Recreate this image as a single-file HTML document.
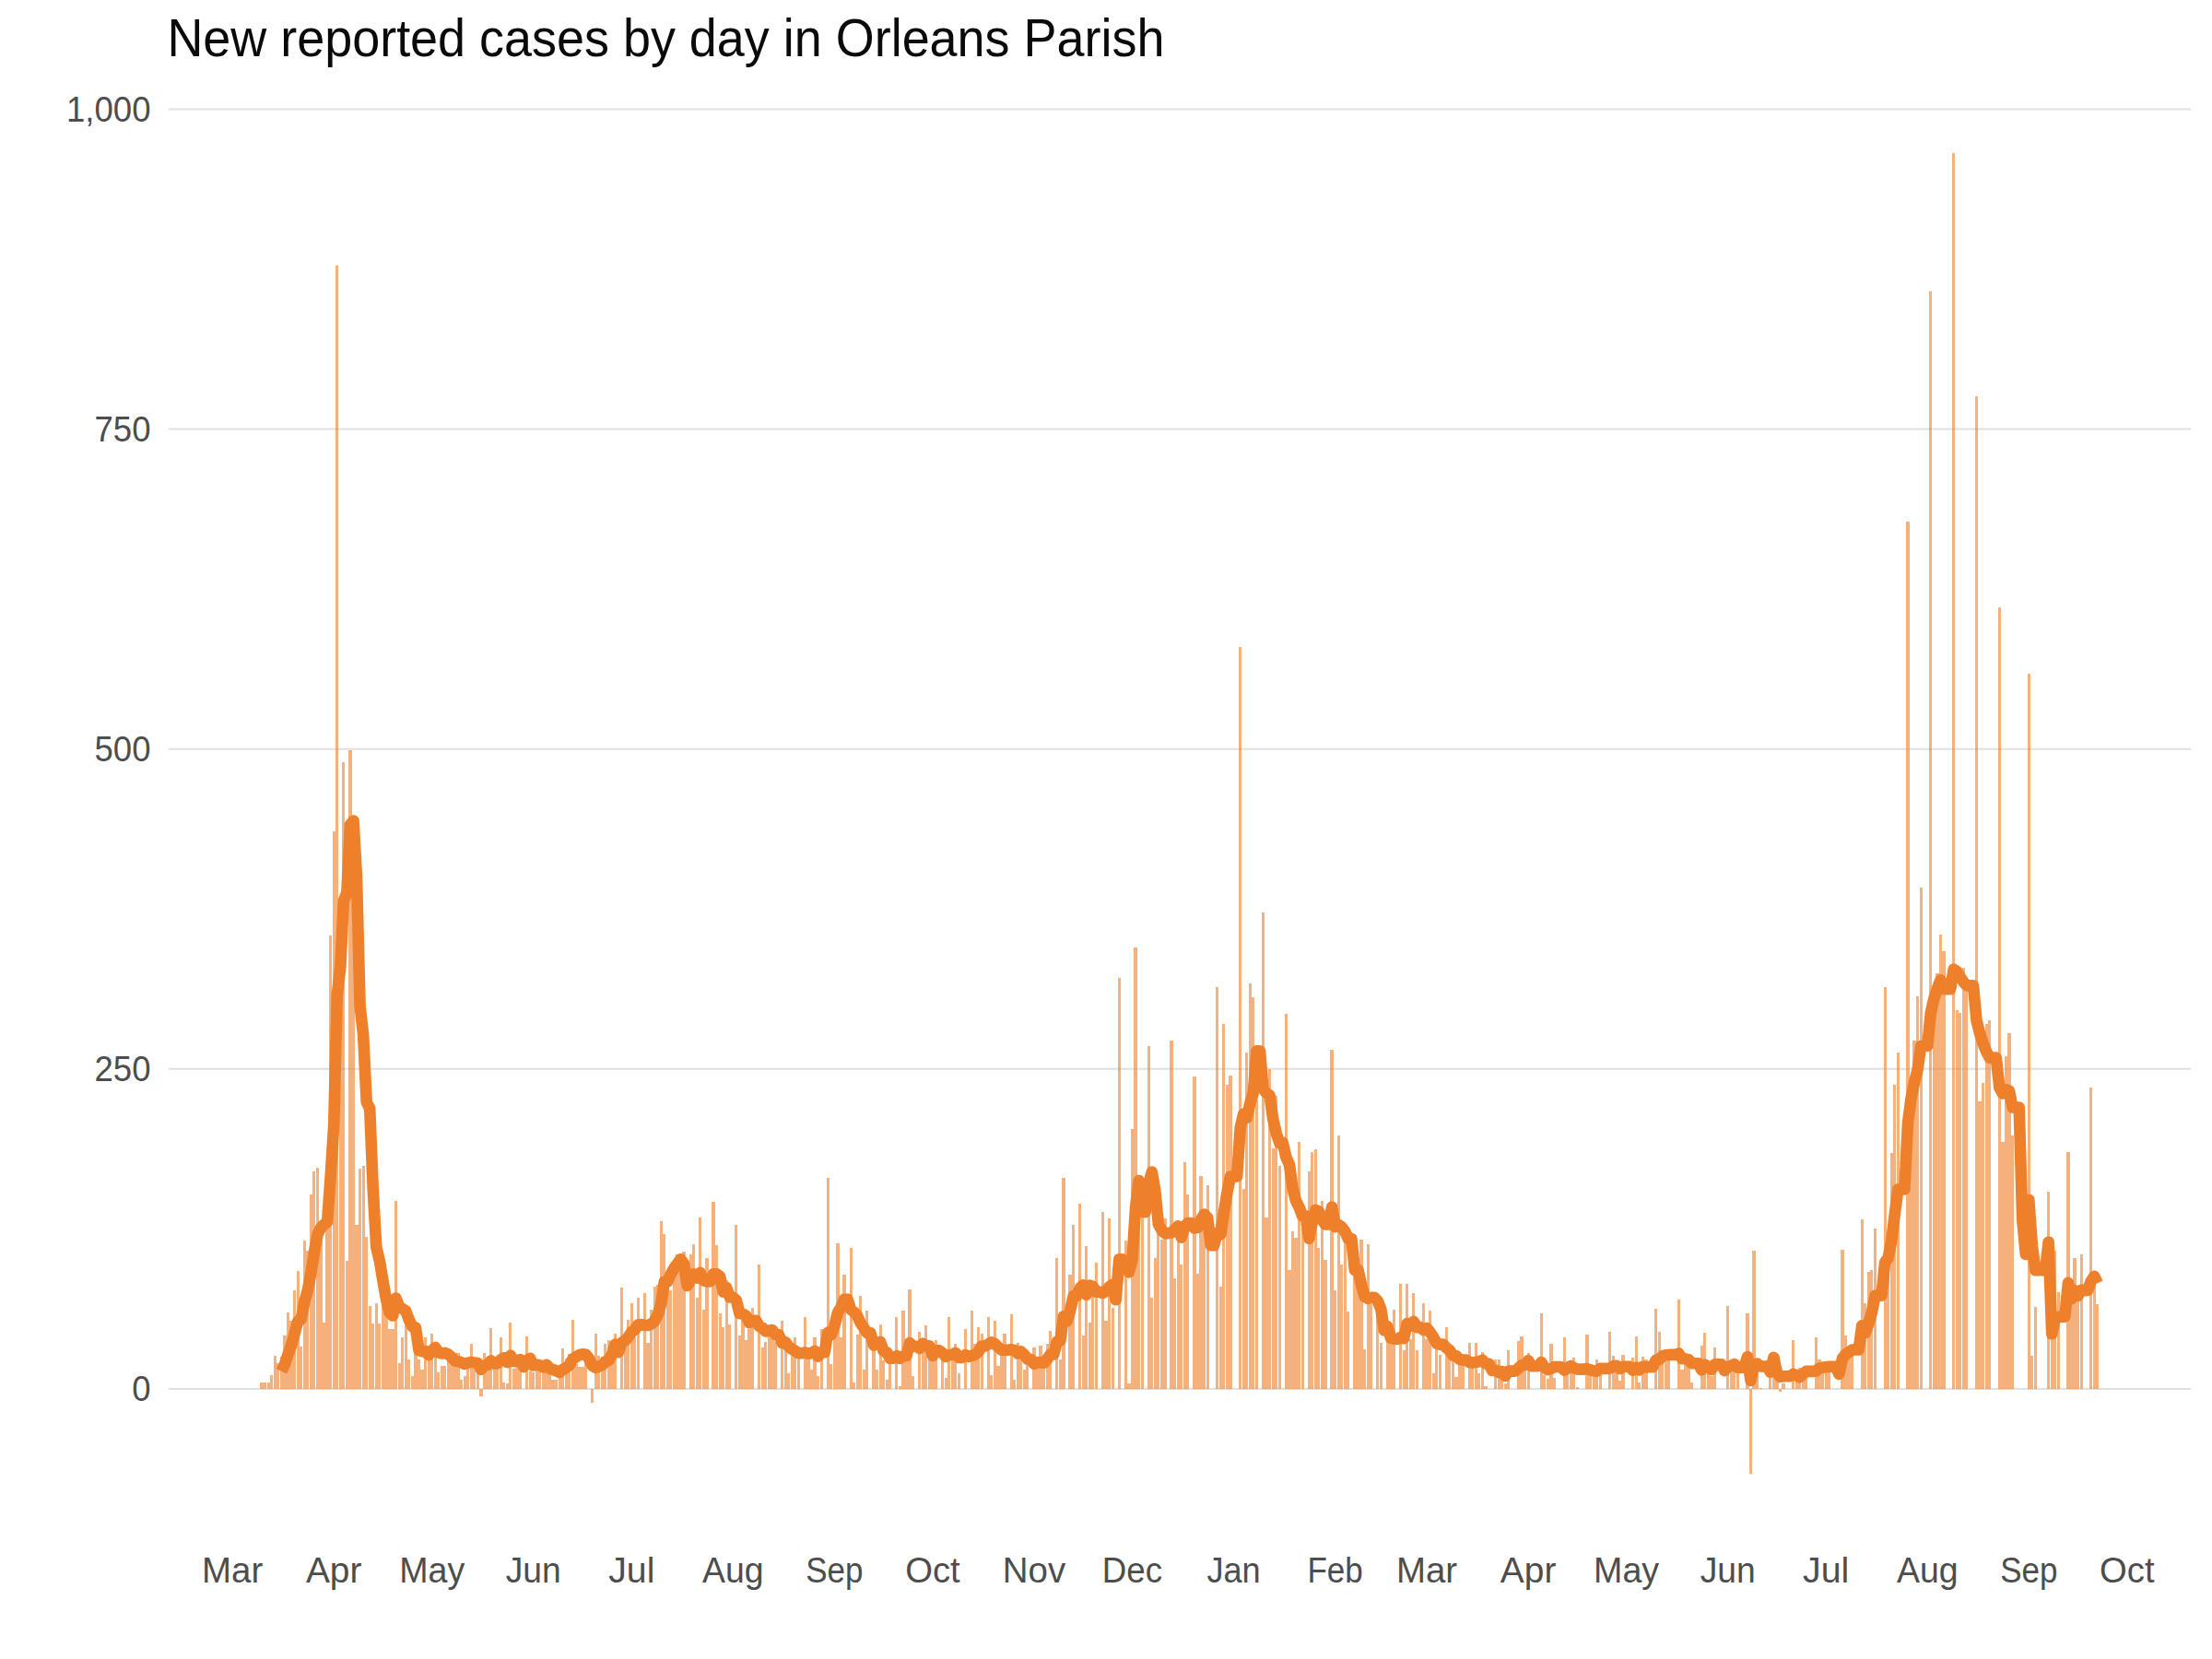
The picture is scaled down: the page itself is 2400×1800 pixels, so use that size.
<!DOCTYPE html>
<html><head><meta charset="utf-8"><title>New reported cases by day in Orleans Parish</title>
<style>
html,body{margin:0;padding:0;background:#fff;}
body{width:2400px;height:1800px;overflow:hidden;position:relative;font-family:"Liberation Sans",sans-serif;}
svg{position:absolute;left:0;top:0;}
.t{font-family:"Liberation Sans",sans-serif;font-size:57px;fill:#0a0a0a;}
.a{font-family:"Liberation Sans",sans-serif;font-size:38px;fill:#4d4d4d;}
</style></head><body>
<svg width="2400" height="1800" viewBox="0 0 2400 1800">
<rect width="2400" height="1800" fill="#fff"/>
<text class="t" x="181.4" y="61.4" textLength="1082" lengthAdjust="spacingAndGlyphs">New reported cases by day in Orleans Parish</text>
<g stroke="#e0e0e0" stroke-width="2"><line x1="183" x2="2377" y1="1507.0" y2="1507.0"/><line x1="183" x2="2377" y1="1159.8" y2="1159.8"/><line x1="183" x2="2377" y1="812.7" y2="812.7"/><line x1="183" x2="2377" y1="465.5" y2="465.5"/><line x1="183" x2="2377" y1="118.4" y2="118.4"/></g>
<g class="a" text-anchor="end"><text x="163.5" y="1520.4" textLength="20.3" lengthAdjust="spacingAndGlyphs">0</text><text x="163.5" y="1173.2" textLength="61.0" lengthAdjust="spacingAndGlyphs">250</text><text x="163.5" y="826.1" textLength="61.0" lengthAdjust="spacingAndGlyphs">500</text><text x="163.5" y="478.9" textLength="61.0" lengthAdjust="spacingAndGlyphs">750</text><text x="163.5" y="131.8" textLength="91.6" lengthAdjust="spacingAndGlyphs">1,000</text></g>
<g class="a" text-anchor="middle"><text x="252.1" y="1716.5" textLength="66.2" lengthAdjust="spacingAndGlyphs">Mar</text><text x="362.2" y="1716.5" textLength="60.5" lengthAdjust="spacingAndGlyphs">Apr</text><text x="468.7" y="1716.5" textLength="71.0" lengthAdjust="spacingAndGlyphs">May</text><text x="578.7" y="1716.5" textLength="60.0" lengthAdjust="spacingAndGlyphs">Jun</text><text x="685.3" y="1716.5" textLength="50.2" lengthAdjust="spacingAndGlyphs">Jul</text><text x="795.3" y="1716.5" textLength="66.6" lengthAdjust="spacingAndGlyphs">Aug</text><text x="905.4" y="1716.5" textLength="62.3" lengthAdjust="spacingAndGlyphs">Sep</text><text x="1011.9" y="1716.5" textLength="59.5" lengthAdjust="spacingAndGlyphs">Oct</text><text x="1122.0" y="1716.5" textLength="68.4" lengthAdjust="spacingAndGlyphs">Nov</text><text x="1228.5" y="1716.5" textLength="65.3" lengthAdjust="spacingAndGlyphs">Dec</text><text x="1338.6" y="1716.5" textLength="58.3" lengthAdjust="spacingAndGlyphs">Jan</text><text x="1448.6" y="1716.5" textLength="60.4" lengthAdjust="spacingAndGlyphs">Feb</text><text x="1548.0" y="1716.5" textLength="66.2" lengthAdjust="spacingAndGlyphs">Mar</text><text x="1658.1" y="1716.5" textLength="60.5" lengthAdjust="spacingAndGlyphs">Apr</text><text x="1764.6" y="1716.5" textLength="71.0" lengthAdjust="spacingAndGlyphs">May</text><text x="1874.7" y="1716.5" textLength="60.0" lengthAdjust="spacingAndGlyphs">Jun</text><text x="1981.2" y="1716.5" textLength="50.2" lengthAdjust="spacingAndGlyphs">Jul</text><text x="2091.3" y="1716.5" textLength="66.6" lengthAdjust="spacingAndGlyphs">Aug</text><text x="2201.3" y="1716.5" textLength="62.3" lengthAdjust="spacingAndGlyphs">Sep</text><text x="2307.8" y="1716.5" textLength="59.5" lengthAdjust="spacingAndGlyphs">Oct</text></g>
<g fill="#f0802a" fill-opacity="0.62" shape-rendering="crispEdges"><rect x="282" y="1500" width="4" height="7"/><rect x="286" y="1500" width="3" height="7"/><rect x="290" y="1500" width="3" height="7"/><rect x="293" y="1492" width="3" height="15"/><rect x="297" y="1471" width="3" height="36"/><rect x="300" y="1479" width="3" height="28"/><rect x="304" y="1472" width="3" height="35"/><rect x="307" y="1449" width="4" height="58"/><rect x="311" y="1424" width="3" height="83"/><rect x="314" y="1433" width="4" height="74"/><rect x="318" y="1400" width="3" height="107"/><rect x="322" y="1379" width="3" height="128"/><rect x="325" y="1461" width="3" height="46"/><rect x="329" y="1346" width="3" height="161"/><rect x="332" y="1357" width="3" height="150"/><rect x="336" y="1296" width="3" height="211"/><rect x="339" y="1271" width="3" height="236"/><rect x="343" y="1267" width="3" height="240"/><rect x="346" y="1329" width="4" height="178"/><rect x="350" y="1435" width="3" height="72"/><rect x="353" y="1326" width="4" height="181"/><rect x="357" y="1015" width="3" height="492"/><rect x="361" y="902" width="3" height="605"/><rect x="364" y="288" width="3" height="1219"/><rect x="368" y="1052" width="3" height="455"/><rect x="371" y="827" width="3" height="680"/><rect x="375" y="1368" width="3" height="139"/><rect x="378" y="814" width="4" height="693"/><rect x="382" y="983" width="3" height="524"/><rect x="385" y="1329" width="4" height="178"/><rect x="389" y="1268" width="3" height="239"/><rect x="393" y="1265" width="3" height="242"/><rect x="396" y="1342" width="3" height="165"/><rect x="400" y="1417" width="3" height="90"/><rect x="403" y="1436" width="3" height="71"/><rect x="407" y="1414" width="3" height="93"/><rect x="410" y="1436" width="3" height="71"/><rect x="414" y="1415" width="3" height="92"/><rect x="417" y="1407" width="4" height="100"/><rect x="421" y="1442" width="3" height="65"/><rect x="424" y="1442" width="4" height="65"/><rect x="428" y="1303" width="3" height="204"/><rect x="432" y="1479" width="3" height="28"/><rect x="435" y="1451" width="3" height="56"/><rect x="439" y="1432" width="3" height="75"/><rect x="442" y="1475" width="3" height="32"/><rect x="446" y="1493" width="3" height="14"/><rect x="449" y="1450" width="4" height="57"/><rect x="453" y="1475" width="3" height="32"/><rect x="456" y="1486" width="4" height="21"/><rect x="460" y="1451" width="3" height="56"/><rect x="464" y="1460" width="3" height="47"/><rect x="467" y="1447" width="3" height="60"/><rect x="471" y="1463" width="3" height="44"/><rect x="474" y="1489" width="3" height="18"/><rect x="478" y="1482" width="3" height="25"/><rect x="481" y="1482" width="3" height="25"/><rect x="485" y="1463" width="3" height="44"/><rect x="488" y="1481" width="4" height="26"/><rect x="492" y="1475" width="3" height="32"/><rect x="495" y="1468" width="4" height="39"/><rect x="499" y="1497" width="3" height="10"/><rect x="503" y="1493" width="3" height="14"/><rect x="506" y="1473" width="3" height="34"/><rect x="510" y="1458" width="3" height="49"/><rect x="513" y="1485" width="3" height="22"/><rect x="517" y="1479" width="3" height="28"/><rect x="520" y="1507" width="4" height="8"/><rect x="524" y="1468" width="3" height="39"/><rect x="527" y="1487" width="4" height="20"/><rect x="531" y="1441" width="3" height="66"/><rect x="535" y="1480" width="3" height="27"/><rect x="538" y="1485" width="3" height="22"/><rect x="542" y="1451" width="3" height="56"/><rect x="545" y="1500" width="3" height="7"/><rect x="549" y="1501" width="3" height="6"/><rect x="552" y="1435" width="3" height="72"/><rect x="556" y="1485" width="3" height="22"/><rect x="559" y="1478" width="4" height="29"/><rect x="563" y="1475" width="3" height="32"/><rect x="570" y="1450" width="3" height="57"/><rect x="574" y="1488" width="3" height="19"/><rect x="577" y="1489" width="3" height="18"/><rect x="581" y="1479" width="3" height="28"/><rect x="584" y="1483" width="3" height="24"/><rect x="588" y="1488" width="3" height="19"/><rect x="591" y="1489" width="4" height="18"/><rect x="595" y="1478" width="3" height="29"/><rect x="598" y="1497" width="4" height="10"/><rect x="602" y="1497" width="3" height="10"/><rect x="606" y="1490" width="3" height="17"/><rect x="609" y="1463" width="3" height="44"/><rect x="613" y="1474" width="3" height="33"/><rect x="616" y="1469" width="3" height="38"/><rect x="620" y="1432" width="3" height="75"/><rect x="623" y="1480" width="4" height="27"/><rect x="627" y="1483" width="3" height="24"/><rect x="630" y="1483" width="4" height="24"/><rect x="634" y="1464" width="3" height="43"/><rect x="641" y="1507" width="3" height="15"/><rect x="645" y="1447" width="3" height="60"/><rect x="648" y="1471" width="3" height="36"/><rect x="652" y="1472" width="3" height="35"/><rect x="655" y="1458" width="3" height="49"/><rect x="659" y="1454" width="3" height="53"/><rect x="662" y="1460" width="4" height="47"/><rect x="666" y="1447" width="3" height="60"/><rect x="673" y="1397" width="3" height="110"/><rect x="677" y="1457" width="3" height="50"/><rect x="680" y="1432" width="3" height="75"/><rect x="684" y="1414" width="3" height="93"/><rect x="687" y="1445" width="3" height="62"/><rect x="691" y="1408" width="3" height="99"/><rect x="698" y="1403" width="3" height="104"/><rect x="701" y="1457" width="4" height="50"/><rect x="705" y="1421" width="3" height="86"/><rect x="709" y="1396" width="3" height="111"/><rect x="712" y="1394" width="3" height="113"/><rect x="716" y="1325" width="3" height="182"/><rect x="719" y="1339" width="3" height="168"/><rect x="723" y="1401" width="3" height="106"/><rect x="726" y="1400" width="3" height="107"/><rect x="730" y="1377" width="3" height="130"/><rect x="733" y="1361" width="4" height="146"/><rect x="737" y="1361" width="3" height="146"/><rect x="740" y="1358" width="4" height="149"/><rect x="748" y="1361" width="3" height="146"/><rect x="751" y="1350" width="3" height="157"/><rect x="755" y="1408" width="3" height="99"/><rect x="758" y="1321" width="3" height="186"/><rect x="762" y="1421" width="3" height="86"/><rect x="765" y="1365" width="4" height="142"/><rect x="772" y="1304" width="4" height="203"/><rect x="776" y="1351" width="3" height="156"/><rect x="780" y="1425" width="3" height="82"/><rect x="783" y="1440" width="3" height="67"/><rect x="787" y="1389" width="3" height="118"/><rect x="790" y="1437" width="3" height="70"/><rect x="797" y="1329" width="3" height="178"/><rect x="801" y="1449" width="3" height="58"/><rect x="804" y="1429" width="4" height="78"/><rect x="808" y="1454" width="3" height="53"/><rect x="811" y="1442" width="4" height="65"/><rect x="815" y="1419" width="3" height="88"/><rect x="822" y="1372" width="3" height="135"/><rect x="826" y="1462" width="3" height="45"/><rect x="829" y="1456" width="3" height="51"/><rect x="833" y="1448" width="3" height="59"/><rect x="836" y="1438" width="4" height="69"/><rect x="840" y="1456" width="3" height="51"/><rect x="847" y="1433" width="3" height="74"/><rect x="851" y="1454" width="3" height="53"/><rect x="854" y="1490" width="3" height="17"/><rect x="858" y="1468" width="3" height="39"/><rect x="861" y="1451" width="3" height="56"/><rect x="865" y="1473" width="3" height="34"/><rect x="872" y="1429" width="3" height="78"/><rect x="875" y="1463" width="4" height="44"/><rect x="879" y="1486" width="3" height="21"/><rect x="882" y="1451" width="4" height="56"/><rect x="886" y="1493" width="3" height="14"/><rect x="890" y="1442" width="3" height="65"/><rect x="897" y="1278" width="3" height="229"/><rect x="900" y="1480" width="3" height="27"/><rect x="904" y="1420" width="3" height="87"/><rect x="907" y="1349" width="4" height="158"/><rect x="911" y="1451" width="3" height="56"/><rect x="914" y="1383" width="4" height="124"/><rect x="922" y="1354" width="3" height="153"/><rect x="925" y="1500" width="3" height="7"/><rect x="929" y="1448" width="3" height="59"/><rect x="932" y="1406" width="3" height="101"/><rect x="936" y="1486" width="3" height="21"/><rect x="939" y="1422" width="3" height="85"/><rect x="946" y="1447" width="4" height="60"/><rect x="950" y="1486" width="3" height="21"/><rect x="954" y="1437" width="3" height="70"/><rect x="957" y="1476" width="3" height="31"/><rect x="961" y="1497" width="3" height="10"/><rect x="964" y="1467" width="3" height="40"/><rect x="971" y="1429" width="3" height="78"/><rect x="975" y="1504" width="3" height="3"/><rect x="978" y="1422" width="4" height="85"/><rect x="982" y="1471" width="3" height="36"/><rect x="985" y="1399" width="4" height="108"/><rect x="989" y="1493" width="3" height="14"/><rect x="996" y="1445" width="3" height="62"/><rect x="1000" y="1467" width="3" height="40"/><rect x="1003" y="1438" width="3" height="69"/><rect x="1007" y="1474" width="3" height="33"/><rect x="1010" y="1472" width="4" height="35"/><rect x="1014" y="1454" width="3" height="53"/><rect x="1021" y="1463" width="3" height="44"/><rect x="1025" y="1495" width="3" height="12"/><rect x="1028" y="1429" width="3" height="78"/><rect x="1032" y="1469" width="3" height="38"/><rect x="1035" y="1458" width="3" height="49"/><rect x="1039" y="1490" width="3" height="17"/><rect x="1046" y="1442" width="3" height="65"/><rect x="1053" y="1422" width="3" height="85"/><rect x="1056" y="1458" width="4" height="49"/><rect x="1060" y="1440" width="3" height="67"/><rect x="1064" y="1447" width="3" height="60"/><rect x="1071" y="1429" width="3" height="78"/><rect x="1074" y="1492" width="3" height="15"/><rect x="1078" y="1433" width="3" height="74"/><rect x="1081" y="1482" width="4" height="25"/><rect x="1085" y="1463" width="3" height="44"/><rect x="1088" y="1447" width="4" height="60"/><rect x="1096" y="1426" width="3" height="81"/><rect x="1099" y="1497" width="3" height="10"/><rect x="1103" y="1457" width="3" height="50"/><rect x="1106" y="1469" width="3" height="38"/><rect x="1110" y="1486" width="3" height="21"/><rect x="1113" y="1481" width="3" height="26"/><rect x="1120" y="1462" width="4" height="45"/><rect x="1124" y="1484" width="3" height="23"/><rect x="1127" y="1460" width="4" height="47"/><rect x="1131" y="1470" width="3" height="37"/><rect x="1135" y="1458" width="3" height="49"/><rect x="1138" y="1444" width="3" height="63"/><rect x="1145" y="1365" width="3" height="142"/><rect x="1149" y="1475" width="3" height="32"/><rect x="1152" y="1278" width="4" height="229"/><rect x="1159" y="1383" width="4" height="124"/><rect x="1163" y="1329" width="3" height="178"/><rect x="1170" y="1306" width="3" height="201"/><rect x="1174" y="1449" width="3" height="58"/><rect x="1177" y="1352" width="3" height="155"/><rect x="1181" y="1435" width="3" height="72"/><rect x="1184" y="1392" width="3" height="115"/><rect x="1188" y="1370" width="3" height="137"/><rect x="1195" y="1315" width="3" height="192"/><rect x="1198" y="1433" width="4" height="74"/><rect x="1202" y="1322" width="3" height="185"/><rect x="1206" y="1419" width="3" height="88"/><rect x="1213" y="1061" width="3" height="446"/><rect x="1220" y="1346" width="3" height="161"/><rect x="1223" y="1501" width="4" height="6"/><rect x="1227" y="1225" width="3" height="282"/><rect x="1230" y="1028" width="4" height="479"/><rect x="1234" y="1299" width="3" height="208"/><rect x="1238" y="1299" width="3" height="208"/><rect x="1245" y="1135" width="3" height="372"/><rect x="1248" y="1408" width="3" height="99"/><rect x="1252" y="1365" width="3" height="142"/><rect x="1255" y="1285" width="3" height="222"/><rect x="1259" y="1345" width="3" height="162"/><rect x="1262" y="1322" width="4" height="185"/><rect x="1269" y="1129" width="4" height="378"/><rect x="1273" y="1387" width="3" height="120"/><rect x="1277" y="1337" width="3" height="170"/><rect x="1280" y="1372" width="3" height="135"/><rect x="1284" y="1261" width="3" height="246"/><rect x="1287" y="1296" width="3" height="211"/><rect x="1294" y="1168" width="4" height="339"/><rect x="1298" y="1382" width="3" height="125"/><rect x="1301" y="1276" width="4" height="231"/><rect x="1305" y="1332" width="3" height="175"/><rect x="1309" y="1286" width="3" height="221"/><rect x="1319" y="1071" width="3" height="436"/><rect x="1323" y="1396" width="3" height="111"/><rect x="1326" y="1111" width="3" height="396"/><rect x="1330" y="1177" width="3" height="330"/><rect x="1333" y="1167" width="4" height="340"/><rect x="1344" y="702" width="3" height="805"/><rect x="1348" y="1290" width="3" height="217"/><rect x="1351" y="1142" width="3" height="365"/><rect x="1355" y="1067" width="3" height="440"/><rect x="1358" y="1082" width="3" height="425"/><rect x="1362" y="1193" width="3" height="314"/><rect x="1369" y="990" width="3" height="517"/><rect x="1372" y="1321" width="4" height="186"/><rect x="1376" y="1160" width="3" height="347"/><rect x="1380" y="1246" width="3" height="261"/><rect x="1383" y="1189" width="3" height="318"/><rect x="1387" y="1265" width="3" height="242"/><rect x="1394" y="1100" width="3" height="407"/><rect x="1397" y="1378" width="4" height="129"/><rect x="1401" y="1336" width="3" height="171"/><rect x="1404" y="1343" width="4" height="164"/><rect x="1408" y="1239" width="3" height="268"/><rect x="1412" y="1332" width="3" height="175"/><rect x="1419" y="1271" width="3" height="236"/><rect x="1422" y="1250" width="3" height="257"/><rect x="1426" y="1247" width="3" height="260"/><rect x="1429" y="1354" width="3" height="153"/><rect x="1433" y="1303" width="3" height="204"/><rect x="1436" y="1367" width="4" height="140"/><rect x="1443" y="1139" width="4" height="368"/><rect x="1447" y="1400" width="3" height="107"/><rect x="1451" y="1232" width="3" height="275"/><rect x="1454" y="1372" width="3" height="135"/><rect x="1458" y="1336" width="3" height="171"/><rect x="1461" y="1423" width="3" height="84"/><rect x="1468" y="1378" width="4" height="129"/><rect x="1472" y="1396" width="3" height="111"/><rect x="1475" y="1345" width="4" height="162"/><rect x="1479" y="1464" width="3" height="43"/><rect x="1483" y="1350" width="3" height="157"/><rect x="1486" y="1415" width="3" height="92"/><rect x="1493" y="1405" width="3" height="102"/><rect x="1497" y="1457" width="3" height="50"/><rect x="1504" y="1434" width="3" height="73"/><rect x="1507" y="1437" width="4" height="70"/><rect x="1511" y="1421" width="3" height="86"/><rect x="1518" y="1393" width="3" height="114"/><rect x="1522" y="1465" width="3" height="42"/><rect x="1525" y="1393" width="3" height="114"/><rect x="1529" y="1453" width="3" height="54"/><rect x="1532" y="1403" width="3" height="104"/><rect x="1536" y="1465" width="3" height="42"/><rect x="1543" y="1414" width="3" height="93"/><rect x="1546" y="1453" width="4" height="54"/><rect x="1550" y="1422" width="3" height="85"/><rect x="1554" y="1490" width="3" height="17"/><rect x="1557" y="1453" width="3" height="54"/><rect x="1561" y="1470" width="3" height="37"/><rect x="1568" y="1440" width="3" height="67"/><rect x="1571" y="1474" width="3" height="33"/><rect x="1575" y="1461" width="3" height="46"/><rect x="1578" y="1494" width="4" height="13"/><rect x="1582" y="1478" width="3" height="29"/><rect x="1585" y="1476" width="4" height="31"/><rect x="1593" y="1457" width="3" height="50"/><rect x="1596" y="1477" width="3" height="30"/><rect x="1600" y="1457" width="3" height="50"/><rect x="1603" y="1490" width="3" height="17"/><rect x="1607" y="1467" width="3" height="40"/><rect x="1610" y="1504" width="4" height="3"/><rect x="1621" y="1475" width="3" height="32"/><rect x="1625" y="1475" width="3" height="32"/><rect x="1628" y="1483" width="3" height="24"/><rect x="1632" y="1501" width="3" height="6"/><rect x="1635" y="1465" width="3" height="42"/><rect x="1646" y="1455" width="3" height="52"/><rect x="1649" y="1450" width="4" height="57"/><rect x="1653" y="1481" width="3" height="26"/><rect x="1657" y="1468" width="3" height="39"/><rect x="1671" y="1425" width="3" height="82"/><rect x="1674" y="1492" width="3" height="15"/><rect x="1678" y="1496" width="3" height="11"/><rect x="1681" y="1458" width="4" height="49"/><rect x="1685" y="1495" width="3" height="12"/><rect x="1696" y="1451" width="3" height="56"/><rect x="1699" y="1477" width="3" height="30"/><rect x="1703" y="1479" width="3" height="28"/><rect x="1706" y="1473" width="3" height="34"/><rect x="1710" y="1505" width="3" height="2"/><rect x="1720" y="1448" width="4" height="59"/><rect x="1724" y="1487" width="3" height="20"/><rect x="1728" y="1485" width="3" height="22"/><rect x="1731" y="1475" width="3" height="32"/><rect x="1735" y="1485" width="3" height="22"/><rect x="1745" y="1445" width="3" height="62"/><rect x="1749" y="1471" width="3" height="36"/><rect x="1752" y="1482" width="4" height="25"/><rect x="1756" y="1498" width="3" height="9"/><rect x="1759" y="1470" width="4" height="37"/><rect x="1770" y="1473" width="3" height="34"/><rect x="1774" y="1450" width="3" height="57"/><rect x="1777" y="1500" width="3" height="7"/><rect x="1781" y="1472" width="3" height="35"/><rect x="1784" y="1475" width="4" height="32"/><rect x="1795" y="1420" width="3" height="87"/><rect x="1799" y="1445" width="3" height="62"/><rect x="1802" y="1472" width="3" height="35"/><rect x="1806" y="1466" width="3" height="41"/><rect x="1809" y="1471" width="3" height="36"/><rect x="1820" y="1410" width="3" height="97"/><rect x="1823" y="1486" width="4" height="21"/><rect x="1827" y="1472" width="3" height="35"/><rect x="1830" y="1472" width="4" height="35"/><rect x="1834" y="1500" width="3" height="7"/><rect x="1845" y="1460" width="3" height="47"/><rect x="1848" y="1446" width="3" height="61"/><rect x="1852" y="1487" width="3" height="20"/><rect x="1855" y="1493" width="4" height="14"/><rect x="1859" y="1462" width="3" height="45"/><rect x="1873" y="1417" width="3" height="90"/><rect x="1877" y="1480" width="3" height="27"/><rect x="1880" y="1481" width="3" height="26"/><rect x="1884" y="1486" width="3" height="21"/><rect x="1894" y="1425" width="4" height="82"/><rect x="1898" y="1507" width="3" height="92"/><rect x="1901" y="1357" width="4" height="150"/><rect x="1905" y="1476" width="3" height="31"/><rect x="1909" y="1506" width="3" height="1"/><rect x="1919" y="1469" width="3" height="38"/><rect x="1923" y="1487" width="3" height="20"/><rect x="1926" y="1471" width="4" height="36"/><rect x="1930" y="1507" width="3" height="3"/><rect x="1933" y="1501" width="4" height="6"/><rect x="1944" y="1454" width="3" height="53"/><rect x="1948" y="1496" width="3" height="11"/><rect x="1951" y="1484" width="3" height="23"/><rect x="1955" y="1485" width="3" height="22"/><rect x="1958" y="1482" width="3" height="25"/><rect x="1969" y="1451" width="3" height="56"/><rect x="1972" y="1475" width="4" height="32"/><rect x="1976" y="1480" width="3" height="27"/><rect x="1980" y="1482" width="3" height="25"/><rect x="1983" y="1478" width="3" height="29"/><rect x="1997" y="1356" width="4" height="151"/><rect x="2001" y="1449" width="3" height="58"/><rect x="2004" y="1465" width="4" height="42"/><rect x="2008" y="1460" width="3" height="47"/><rect x="2019" y="1323" width="3" height="184"/><rect x="2022" y="1414" width="3" height="93"/><rect x="2026" y="1380" width="3" height="127"/><rect x="2029" y="1378" width="3" height="129"/><rect x="2033" y="1333" width="3" height="174"/><rect x="2044" y="1071" width="3" height="436"/><rect x="2047" y="1377" width="3" height="130"/><rect x="2051" y="1251" width="3" height="256"/><rect x="2054" y="1177" width="3" height="330"/><rect x="2058" y="1142" width="3" height="365"/><rect x="2068" y="566" width="4" height="941"/><rect x="2072" y="1191" width="3" height="316"/><rect x="2075" y="1129" width="4" height="378"/><rect x="2079" y="1081" width="3" height="426"/><rect x="2083" y="963" width="3" height="544"/><rect x="2093" y="316" width="3" height="1191"/><rect x="2097" y="1080" width="3" height="427"/><rect x="2100" y="1056" width="4" height="451"/><rect x="2104" y="1014" width="3" height="493"/><rect x="2107" y="1032" width="4" height="475"/><rect x="2118" y="166" width="3" height="1341"/><rect x="2122" y="1096" width="3" height="411"/><rect x="2125" y="1099" width="3" height="408"/><rect x="2129" y="1050" width="3" height="457"/><rect x="2132" y="1061" width="3" height="446"/><rect x="2143" y="430" width="3" height="1077"/><rect x="2146" y="1195" width="4" height="312"/><rect x="2150" y="1175" width="3" height="332"/><rect x="2154" y="1111" width="3" height="396"/><rect x="2157" y="1107" width="3" height="400"/><rect x="2168" y="659" width="3" height="848"/><rect x="2171" y="1239" width="4" height="268"/><rect x="2175" y="1146" width="3" height="361"/><rect x="2178" y="1121" width="4" height="386"/><rect x="2182" y="1232" width="3" height="275"/><rect x="2200" y="731" width="3" height="776"/><rect x="2203" y="1471" width="3" height="36"/><rect x="2207" y="1418" width="3" height="89"/><rect x="2221" y="1293" width="3" height="214"/><rect x="2225" y="1428" width="3" height="79"/><rect x="2228" y="1357" width="3" height="150"/><rect x="2232" y="1402" width="3" height="105"/><rect x="2242" y="1250" width="4" height="257"/><rect x="2246" y="1415" width="3" height="92"/><rect x="2249" y="1365" width="4" height="142"/><rect x="2253" y="1396" width="3" height="111"/><rect x="2257" y="1361" width="3" height="146"/><rect x="2267" y="1180" width="3" height="327"/><rect x="2271" y="1379" width="3" height="128"/><rect x="2274" y="1415" width="3" height="92"/></g>
<polyline fill="none" stroke="#ee802b" stroke-width="12.6" stroke-linejoin="round" stroke-linecap="butt" points="305.4,1487.8 308.9,1480.5 312.5,1469.5 316.0,1460.0 319.6,1446.9 323.1,1433.8 326.7,1431.2 330.2,1413.2 333.8,1400.1 337.3,1381.8 340.9,1358.6 344.4,1339.6 348.0,1332.4 351.5,1328.7 355.1,1325.9 358.6,1277.1 362.2,1220.8 365.7,1080.3 369.3,1049.6 372.8,977.7 376.4,968.2 379.9,895.0 383.5,890.5 387.0,951.6 390.6,1091.6 394.1,1122.2 397.7,1195.8 401.2,1202.7 404.8,1291.6 408.3,1353.1 411.9,1368.3 415.4,1389.4 419.0,1409.6 422.5,1423.9 426.1,1427.5 429.6,1408.5 433.2,1417.8 436.7,1420.0 440.3,1422.3 443.8,1432.0 447.4,1439.3 450.9,1440.5 454.5,1465.1 458.0,1466.1 461.6,1466.1 465.1,1470.1 468.7,1466.1 472.2,1461.9 475.8,1467.5 479.3,1468.5 482.9,1467.9 486.4,1469.5 490.0,1472.5 493.5,1476.5 497.1,1477.1 500.6,1478.3 504.2,1479.9 507.7,1478.6 511.3,1478.0 514.8,1478.6 518.4,1479.1 521.9,1485.9 525.5,1481.7 529.0,1480.9 532.6,1476.4 536.1,1479.4 539.7,1479.4 543.2,1475.5 546.8,1473.3 550.3,1478.1 553.9,1470.7 557.4,1476.9 561.0,1476.6 564.5,1475.1 568.1,1483.0 571.6,1475.9 575.2,1473.9 578.7,1481.5 582.3,1480.7 585.8,1481.5 589.4,1483.3 592.9,1480.8 596.5,1484.8 600.0,1486.1 603.6,1487.3 607.1,1488.9 610.7,1485.9 614.3,1484.0 617.8,1481.1 621.4,1474.6 624.9,1472.2 628.5,1470.2 632.0,1469.3 635.6,1469.5 639.1,1474.1 642.7,1481.8 646.2,1483.9 649.8,1482.6 653.3,1481.0 656.9,1477.4 660.4,1476.0 664.0,1469.3 667.5,1458.6 671.1,1467.1 674.6,1456.6 678.2,1454.5 681.7,1450.7 685.3,1445.0 688.8,1442.7 692.4,1437.2 695.9,1437.2 699.5,1438.0 703.0,1438.0 706.6,1436.4 710.1,1433.8 713.7,1426.6 717.2,1414.7 720.8,1390.7 724.3,1390.4 727.9,1382.3 731.4,1376.0 735.0,1371.0 738.5,1366.3 742.1,1371.0 745.6,1395.0 749.2,1389.4 752.7,1382.2 756.3,1386.6 759.8,1380.9 763.4,1389.4 766.9,1390.4 770.5,1390.4 774.0,1382.2 777.6,1382.3 781.1,1384.8 784.7,1401.8 788.2,1397.1 791.8,1407.5 795.3,1407.5 798.9,1410.9 802.4,1425.0 806.0,1425.6 809.5,1427.6 813.1,1435.3 816.6,1432.7 820.2,1432.7 823.7,1438.9 827.3,1440.7 830.8,1444.5 834.4,1443.7 837.9,1443.0 841.5,1448.3 845.0,1448.3 848.6,1457.1 852.1,1456.1 855.7,1460.9 859.2,1463.8 862.8,1465.8 866.3,1468.2 869.9,1468.2 873.4,1467.5 877.0,1468.7 880.5,1468.1 884.1,1465.8 887.6,1471.7 891.2,1467.3 894.7,1467.3 898.3,1445.8 901.8,1448.3 905.4,1438.8 908.9,1424.2 912.5,1418.3 916.0,1409.9 919.6,1409.9 923.1,1420.8 926.7,1423.6 930.2,1427.7 933.8,1435.8 937.3,1440.7 940.9,1446.2 944.4,1446.2 948.0,1459.5 951.5,1457.5 955.1,1455.9 958.6,1465.9 962.2,1467.4 965.8,1473.8 969.3,1473.8 972.9,1471.3 976.4,1473.9 980.0,1471.7 983.5,1470.8 987.1,1457.0 990.6,1460.7 994.2,1460.7 997.7,1463.0 1001.3,1457.8 1004.8,1460.1 1008.4,1460.6 1011.9,1471.0 1015.5,1465.4 1019.0,1465.4 1022.6,1467.9 1026.1,1471.8 1029.7,1470.4 1033.2,1469.7 1036.8,1467.8 1040.3,1472.9 1043.9,1472.9 1047.4,1470.1 1051.0,1471.9 1054.5,1471.0 1058.1,1469.4 1061.6,1466.7 1065.2,1460.5 1068.7,1460.5 1072.3,1458.5 1075.8,1456.4 1079.4,1458.0 1082.9,1461.4 1086.5,1464.7 1090.0,1464.7 1093.6,1464.7 1097.1,1464.3 1100.7,1465.0 1104.2,1468.4 1107.8,1466.5 1111.3,1469.8 1114.9,1474.7 1118.4,1474.7 1122.0,1479.8 1125.5,1478.0 1129.1,1478.5 1132.6,1478.7 1136.2,1474.8 1139.7,1469.5 1143.3,1469.5 1146.8,1455.7 1150.4,1454.3 1153.9,1428.3 1157.5,1433.5 1161.0,1422.7 1164.6,1406.3 1168.1,1406.3 1171.7,1397.9 1175.2,1394.2 1178.8,1404.8 1182.3,1394.6 1185.9,1395.9 1189.4,1401.8 1193.0,1401.8 1196.5,1403.0 1200.1,1400.6 1203.6,1396.2 1207.2,1393.8 1210.7,1410.3 1214.3,1366.2 1217.8,1366.2 1221.4,1370.6 1224.9,1380.4 1228.5,1366.7 1232.0,1310.8 1235.6,1281.1 1239.1,1315.0 1242.7,1315.0 1246.2,1284.8 1249.8,1271.5 1253.3,1291.6 1256.9,1328.3 1260.4,1334.8 1264.0,1338.1 1267.5,1338.1 1271.1,1337.3 1274.6,1334.2 1278.2,1330.2 1281.7,1342.6 1285.3,1330.7 1288.8,1327.0 1292.4,1327.0 1295.9,1332.6 1299.5,1331.9 1303.0,1323.1 1306.6,1317.5 1310.1,1320.9 1313.7,1351.1 1317.2,1351.1 1320.8,1337.2 1324.4,1339.2 1327.9,1315.7 1331.5,1293.4 1335.0,1276.5 1338.6,1276.5 1342.1,1276.5 1345.7,1223.7 1349.2,1208.5 1352.8,1212.9 1356.3,1197.2 1359.9,1185.1 1363.4,1140.3 1367.0,1140.3 1370.5,1181.6 1374.1,1186.0 1377.6,1188.6 1381.2,1214.2 1384.7,1229.5 1388.3,1239.8 1391.8,1239.8 1395.4,1255.5 1398.9,1263.6 1402.5,1288.8 1406.0,1302.7 1409.6,1309.8 1413.1,1319.3 1416.7,1319.3 1420.2,1343.7 1423.8,1325.5 1427.3,1312.8 1430.9,1314.3 1434.4,1323.4 1438.0,1328.5 1441.5,1328.5 1445.1,1309.6 1448.6,1331.1 1452.2,1328.9 1455.7,1331.4 1459.3,1336.1 1462.8,1344.0 1466.4,1344.0 1469.9,1378.2 1473.5,1377.6 1477.0,1393.8 1480.6,1406.9 1484.1,1408.9 1487.7,1407.9 1491.2,1407.9 1494.8,1411.7 1498.3,1420.4 1501.9,1443.5 1505.4,1439.3 1509.0,1451.8 1512.5,1452.7 1516.1,1452.7 1519.6,1451.1 1523.2,1452.2 1526.7,1436.0 1530.3,1438.8 1533.8,1433.9 1537.4,1440.1 1540.9,1440.1 1544.5,1443.0 1548.0,1441.2 1551.6,1445.4 1555.1,1450.7 1558.7,1457.7 1562.2,1458.6 1565.8,1458.6 1569.3,1462.3 1572.9,1465.2 1576.4,1470.7 1580.0,1471.2 1583.5,1474.8 1587.1,1475.6 1590.6,1475.6 1594.2,1478.0 1597.7,1478.5 1601.3,1477.9 1604.8,1477.2 1608.4,1475.7 1611.9,1479.7 1615.5,1479.7 1619.0,1486.9 1622.6,1486.5 1626.1,1489.1 1629.7,1488.2 1633.2,1493.0 1636.8,1487.6 1640.3,1487.6 1643.9,1487.6 1647.4,1484.7 1651.0,1481.3 1654.5,1481.0 1658.1,1476.3 1661.6,1482.2 1665.2,1482.2 1668.7,1482.2 1672.3,1478.1 1675.9,1484.0 1679.4,1486.2 1683.0,1484.8 1686.5,1483.0 1690.1,1483.0 1693.6,1483.0 1697.2,1486.7 1700.7,1484.6 1704.3,1482.1 1707.8,1484.2 1711.4,1485.6 1714.9,1485.6 1718.5,1485.6 1722.0,1485.0 1725.6,1486.4 1729.1,1487.3 1732.7,1487.6 1736.2,1484.9 1739.8,1484.9 1743.3,1484.9 1746.9,1484.5 1750.4,1482.2 1754.0,1481.7 1757.5,1485.0 1761.1,1482.8 1764.6,1482.8 1768.2,1482.8 1771.7,1486.7 1775.3,1483.8 1778.8,1486.4 1782.4,1482.7 1785.9,1483.3 1789.5,1483.3 1793.0,1483.3 1796.6,1475.8 1800.1,1475.1 1803.7,1471.1 1807.2,1470.3 1810.8,1469.9 1814.3,1469.9 1817.9,1469.9 1821.4,1468.5 1825.0,1474.3 1828.5,1474.3 1832.1,1475.1 1835.6,1479.3 1839.2,1479.3 1842.7,1479.3 1846.3,1486.4 1849.8,1480.7 1853.4,1482.9 1856.9,1486.0 1860.5,1480.4 1864.0,1480.4 1867.6,1480.4 1871.1,1487.1 1874.7,1482.9 1878.2,1482.0 1881.8,1480.2 1885.3,1483.7 1888.9,1483.7 1892.4,1483.7 1896.0,1472.0 1899.5,1497.9 1903.1,1480.3 1906.6,1479.6 1910.2,1482.5 1913.7,1482.5 1917.3,1482.5 1920.8,1488.7 1924.4,1472.8 1927.9,1489.0 1931.5,1493.9 1935.0,1493.2 1938.6,1493.2 1942.1,1493.2 1945.7,1490.9 1949.2,1492.2 1952.8,1494.1 1956.3,1490.6 1959.9,1487.9 1963.4,1487.9 1967.0,1487.9 1970.5,1487.4 1974.1,1484.4 1977.6,1483.8 1981.2,1483.3 1984.7,1482.8 1988.3,1482.8 1991.8,1482.8 1995.4,1490.8 1998.9,1474.0 2002.5,1469.5 2006.0,1467.1 2009.6,1464.5 2013.1,1464.5 2016.7,1464.5 2020.2,1438.2 2023.8,1446.3 2027.3,1436.3 2030.9,1423.9 2034.5,1405.7 2038.0,1405.7 2041.6,1405.7 2045.1,1369.8 2048.7,1364.6 2052.2,1346.2 2055.8,1317.5 2059.3,1290.4 2062.9,1290.4 2066.4,1290.4 2070.0,1218.3 2073.5,1191.6 2077.1,1174.3 2080.6,1160.5 2084.2,1134.8 2087.7,1134.8 2091.3,1134.8 2094.8,1099.0 2098.4,1083.2 2101.9,1072.7 2105.5,1063.2 2109.0,1073.1 2112.6,1073.1 2116.1,1073.1 2119.7,1051.7 2123.2,1054.0 2126.8,1060.1 2130.3,1065.3 2133.9,1069.4 2137.4,1069.4 2141.0,1069.4 2144.5,1107.1 2148.1,1121.3 2151.6,1132.2 2155.2,1141.0 2158.7,1147.6 2162.3,1147.6 2165.8,1147.6 2169.4,1180.2 2172.9,1186.4 2176.5,1182.2 2180.0,1183.6 2183.6,1201.5 2187.1,1201.5 2190.7,1201.5 2194.2,1322.6 2197.8,1361.0 2201.3,1301.8 2204.9,1351.8 2208.4,1378.3 2212.0,1378.3 2215.5,1378.3 2219.1,1378.3 2222.6,1347.7 2226.2,1447.3 2229.7,1430.9 2233.3,1428.7 2236.8,1428.7 2240.4,1428.7 2243.9,1391.9 2247.5,1409.3 2251.0,1400.3 2254.6,1405.9 2258.1,1399.9 2261.7,1399.9 2265.2,1399.9 2268.8,1390.0 2272.3,1384.9 2275.9,1392.2"/>
</svg></body></html>
